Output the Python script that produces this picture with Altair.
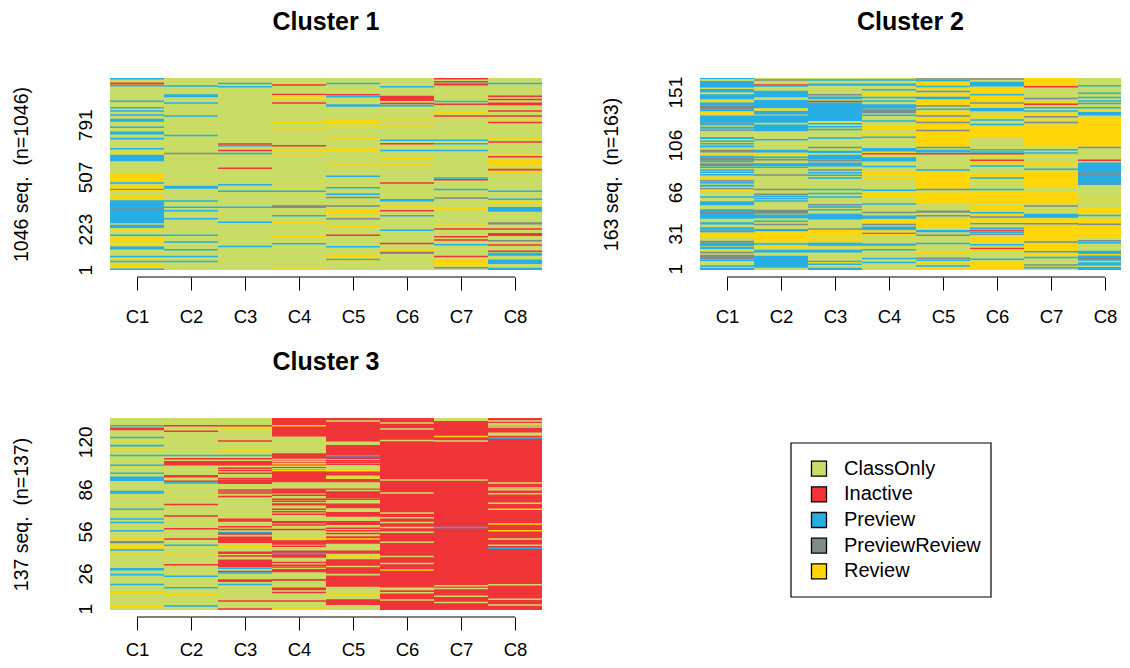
import altair as alt
import pandas as pd

STATES = ["ClassOnly", "Inactive", "Preview", "PreviewReview", "Review"]
COLORS = ["#C9DC66", "#F03538", "#26AEE5", "#7F8C8B", "#FFD60A"]
COLUMNS = ["C1", "C2", "C3", "C4", "C5", "C6", "C7", "C8"]
C, I, P, R, V = STATES

# Each entry is (state, row) for a thin run of sequences, or (state, first row, last row).
# Rows count down a 27-597 reading grid spanning all sequences of a cluster.
A1 = [(P,29),(P,50),(I,40,46),(P,96),(P,115),(P,125),(P,137),(P,148,157),(P,173),(P,186,195),(P,207),(P,237),(V,250),(P,255,274),(V,312,333),(P,339),(V,347,355),(R,358),(V,362),(V,378,387),(P,390,458),(R,416),(P,463,472),(V,478),(P,494),(V,502,511),(V,516,522),(P,527,536),(P,557),(V,565),(P,572),(V,580,590),(P,595)]
A2 = [(P,51),(P,75,84),(P,101),(P,140),(P,198),(R,251),(P,347,356),(P,392),(P,411),(P,421),(P,445),(P,494),(P,514),(P,537),(P,557),(P,572)]
A3 = [(P,43),(P,53),(I,223),(P,228),(I,242),(P,251),(I,295),(P,344),(P,363),(P,411),(P,455),(P,527)]
A4 = [(I,48),(I,76),(V,80),(V,86),(I,101),(V,159),(V,179),(I,228),(V,241),(V,252),(V,358),(P,363),(R,405,413),(P,436),(V,455),(V,498),(P,519),(V,590)]
A5 = [(P,43),(I,77),(P,83),(P,105,112),(V,149,162),(V,169),(V,208),(V,236,245),(V,285),(P,319),(P,353),(P,372),(R,382),(R,407),(V,419,430),(V,436),(R,445),(V,469),(I,494),(P,528),(V,551,559),(P,566),(V,571)]
A6 = [(P,53),(I,80,95),(I,103),(P,109),(V,150),(V,169),(P,212),(I,222),(P,242),(V,266),(V,285),(I,339),(P,386,394),(V,407),(I,421),(P,436),(P,479),(I,518),(V,540),(I,545),(P,547)]
A7 = [(I,29),(I,38),(P,43),(I,47),(P,97),(I,105),(V,130),(I,140),(P,212),(P,222),(P,242),(P,324),(I,329),(P,358),(R,383),(V,415),(V,460),(I,475),(I,498),(I,508),(P,522),(I,557),(V,565,578),(V,580),(R,590)]
A8 = [(P,43),(I,81),(I,91),(I,100,108),(I,125),(I,140),(V,150),(I,159),(V,208),(I,217),(V,252),(I,261),(V,270,280),(V,285),(V,293),(I,299),(V,309),(P,363),(P,387),(V,397),(P,410,424),(R,455,462),(I,475),(I,487,496),(R,510),(I,523),(I,541),(P,546,555),(P,566,579),(P,590,597)]

B1 = [(P,27,30),(P,36,55),(P,60,69),(P,75,90),(V,95),(P,100,108),(R,108,120),(P,120,126),(V,127,135),(P,138,160),(R,162),(P,164,168),(P,172,178),(R,182),(P,202,208),(P,215),(P,222),(P,230),(R,240,248),(V,250,258),(P,260),(R,262,273),(P,275),(R,280,288),(P,292),(P,300),(P,307),(P,314),(V,320,326),(R,332),(P,338),(P,344,350),(R,356),(V,360),(P,380),(P,393,405),(P,417,445),(R,427),(P,455,462),(P,470,475),(P,478),(R,483),(V,488,500),(R,510,516),(P,516,526),(P,528,535),(V,537),(R,545),(R,552,565),(P,568),(P,585),(P,590,597)]
B2 = [(R,33),(I,48),(P,51),(P,65,84),(P,92,117),(V,120),(P,125,135),(P,138,160),(P,165,185),(P,210),(P,240,248),(V,253),(P,260,265),(R,270),(P,280,288),(P,292),(R,315),(R,358),(R,372),(P,378),(P,385),(P,392),(R,418,430),(P,432,443),(P,452),(R,462),(P,475,482),(V,484,505),(V,510),(P,520),(V,528),(P,537,545),(P,555,590)]
B3 = [(P,33),(P,43,50),(R,77),(P,82,90),(I,97),(P,100,155),(P,163),(P,172),(P,180),(P,205),(R,233),(P,243,250),(P,255,270),(R,273),(P,278,290),(R,300),(P,308),(P,316),(P,324),(P,358),(P,370),(P,380),(R,403),(P,410),(P,418),(P,430,447),(R,475),(V,478,497),(V,503,512),(P,516,525),(V,530),(P,537,545),(P,572),(V,576),(P,580),(P,590,597)]
B4 = [(P,33),(P,43,50),(P,62),(V,70,80),(P,85),(P,95),(P,105,118),(R,120,132),(P,135,140),(P,155),(V,168,180),(V,195),(P,203),(P,235,245),(V,249),(I,252),(P,262,275),(P,290),(V,305,318),(V,325),(P,360),(V,367,380),(P,401),(R,426),(P,435,445),(V,448,458),(R,462),(P,468,478),(V,482),(I,489),(V,492),(P,518,525),(V,530),(P,537),(P,563),(P,575)]
B5 = [(R,30),(P,35),(V,38,48),(P,52),(V,57,62),(R,67),(V,72,80),(R,85),(P,88),(V,92,107),(R,110),(V,115),(P,120),(V,125,135),(R,140),(V,145,155),(R,159),(V,163,230),(R,183),(R,233),(P,240,248),(I,252),(P,300),(V,305,355),(R,358),(V,367,400),(R,420,427),(R,436),(V,445,470),(P,478,485),(R,494),(P,518),(V,545),(R,562),(P,568),(V,575),(P,585),(V,590,597)]
B6 = [(R,30),(P,38,52),(V,57,72),(P,77),(V,80,95),(R,101),(V,105,112),(P,116,126),(V,135,145),(P,152),(P,165),(V,170,205),(P,240),(P,247),(I,252),(V,258),(I,271),(V,278),(P,288),(V,310,320),(P,324),(V,330),(P,358),(V,365,400),(V,405,420),(P,427),(V,433),(R,440),(V,445,455),(R,460),(V,465),(P,473),(I,480),(P,485),(R,491),(V,498,515),(P,522),(I,533),(V,538),(P,565),(V,572,597)]
B7 = [(V,27,56),(I,53),(R,88),(V,98),(I,105),(P,115),(P,125),(V,135),(R,142),(V,150),(R,159),(V,165,230),(P,240),(P,250),(V,258),(V,278,288),(P,298),(V,303,352),(V,365,400),(R,407),(P,430,442),(V,445,457),(R,460),(V,465,510),(R,514),(V,520,540),(R,543),(V,548,555),(P,560),(R,582),(P,590)]
B8 = [(P,50),(P,72),(P,85),(P,95),(P,103),(P,115),(V,122),(P,128,138),(V,143,230),(R,233),(I,271),(P,278,345),(R,305),(R,315),(R,340),(V,388),(V,410,430),(P,435),(V,445,458),(R,461),(V,467,500),(R,510),(P,516),(P,540,597),(V,552),(R,563),(C,572),(C,586)]

D1 = [(P,50),(I,55,63),(P,85),(V,96),(P,109),(V,115),(P,138),(P,167),(P,191),(P,201,214),(P,243,252),(P,298),(P,327),(P,337),(V,358),(P,362),(V,386),(R,392,399),(V,403,415),(P,419),(V,430),(P,472,480),(P,492),(P,521),(V,546),(V,582,590)]
D2 = [(I,50),(I,66),(P,138),(I,148),(I,155,168),(I,196,204),(I,215),(P,220),(I,284),(I,318),(I,356),(I,386),(P,405),(V,430),(I,463),(P,497),(P,531),(V,550),(P,585)]
D3 = [(I,50),(V,60),(I,95),(V,124),(P,138),(I,148),(I,155,168),(I,176),(I,183),(I,191),(I,207),(I,210,223),(P,240),(I,244),(I,250),(I,260),(I,325,335),(I,350),(I,358),(P,367),(I,371),(I,379,398),(V,408),(I,423,431),(I,437),(I,447,470),(P,473),(I,483),(P,487),(I,506,514),(P,521),(I,570),(I,594)]
D4 = [(I,27,82),(V,50),(I,132,218),(C,150),(C,156),(V,163),(C,170),(C,178),(V,183),(I,236,248),(I,249),(I,256),(I,268),(I,274),(I,280,287),(I,298),(I,305),(I,313),(I,333,340),(I,345),(I,358),(V,386),(I,390,403),(I,408),(I,420,442),(P,429),(I,456),(I,464),(I,469),(I,475,485),(I,505,510),(I,530,538),(I,545),(I,570),(V,594)]
D5 = [(I,27,97),(C,36),(I,107,149),(P,139),(I,153),(I,158),(I,164),(V,182),(I,186,198),(V,204),(I,208,218),(I,236,265),(C,242),(I,268),(I,281,295),(I,306,320),(I,333,345),(I,354),(I,362),(I,370),(I,378,400),(V,386),(I,420,430),(V,439),(I,446,528),(C,468),(C,492),(V,551),(I,565,582)]
D6 = [(I,27,597),(C,42),(C,60),(C,94),(C,211),(C,250),(C,309),(C,323),(C,337),(C,352),(C,366),(C,396),(C,438),(C,459),(V,478),(C,530,538),(C,546),(C,567)]
D7 = [(I,36,597),(C,27,35),(V,82),(C,95),(C,211),(P,352),(C,525),(C,533),(C,556),(C,575)]
D8 = [(I,27,597),(C,36),(C,42,50),(C,54),(C,70,80),(P,86),(C,220),(C,235),(C,240),(C,252),(C,280),(V,298),(V,342),(V,362),(C,386),(C,405),(P,414),(C,522),(C,565),(C,582)]

# title offset keeps the three titles level: the top tick label of cluster 2 reaches above its panel
CLUSTERS = [
    ("Cluster 1", 1046, [1, 223, 507, 791], [A1, A2, A3, A4, A5, A6, A7, A8], 432, 43, 17),
    ("Cluster 2", 163, [1, 31, 66, 106, 151], [B1, B2, B3, B4, B5, B6, B7, B8], 421, 41, 17),
    ("Cluster 3", 137, [1, 26, 56, 86, 120], [D1, D2, D3, D4, D5, D6, D7, D8], 432, 43, 10),
]

FONT = "Liberation Sans"
W, H = 432, 192
TOP, BOTTOM = 27, 597
THIN = 4.5
color_scale = alt.Scale(domain=STATES, range=COLORS)


def table(n, columns):
    rows = []
    to_seq = lambda r: n * (BOTTOM - r) / (BOTTOM - TOP)
    for i, col in enumerate(columns):
        rows.append(dict(x=i, x2=i + 1, y=0, y2=n, state=C))
        for e in col:
            if len(e) == 2:
                a, b = e[1] - THIN / 2, e[1] + THIN / 2
            else:
                a, b = e[1], e[2]
            rows.append(dict(x=i, x2=i + 1, y=to_seq(min(b, BOTTOM)), y2=to_seq(max(a, TOP)), state=e[0]))
    return pd.DataFrame(rows)


def panel(title, n, ticks, columns, w, title_offset, label_pad):
    label_expr = "[" + ",".join(f"'{c}'" for c in COLUMNS) + "][floor(datum.value)]"
    x_scale = alt.Scale(domain=[0, 8 * w / W], nice=False, zero=False)
    rects = alt.Chart(table(n, columns)).mark_rect(clip=True).encode(
        x=alt.X("x:Q", scale=x_scale,
                axis=alt.Axis(values=[i + 0.5 for i in range(8)], labelExpr=label_expr, title=None,
                              grid=False, domain=False, offset=7, tickSize=13, tickColor="#000",
                              tickWidth=1, labelFont=FONT, labelFontSize=18.5, labelColor="#000",
                              labelPadding=label_pad, labelAngle=0)),
        x2="x2:Q",
        y=alt.Y("y:Q", scale=alt.Scale(domain=[0, n], nice=False, zero=False),
                axis=alt.Axis(values=ticks, format="d", title=f"{n} seq.\u00a0 (n={n})", ticks=False, domain=False,
                              grid=False, labelAngle=270, labelAlign="center", labelBaseline="bottom",
                              labelFont=FONT, labelFontSize=19, labelColor="#000", labelPadding=15,
                              labelOverlap=False, titleFont=FONT, titleFontSize=19.5, titleFontWeight="normal",
                              titleColor="#000", titlePadding=45)),
        y2="y2:Q",
        color=alt.Color("state:N", scale=color_scale, legend=None),
    )
    line = alt.Chart(pd.DataFrame({"a": [0.5], "b": [7.5]})).mark_rule(color="#000", strokeWidth=1).encode(
        x=alt.X("a:Q", scale=x_scale), x2="b:Q", y=alt.value(H + 7))
    return alt.layer(rects, line).properties(
        width=w, height=H,
        title=alt.TitleParams(title, font=FONT, fontSize=25, fontWeight="bold", color="#000", offset=title_offset),
    )


def legend():
    df = pd.DataFrame({"state": STATES})
    yscale = alt.Y("state:N", sort=STATES, axis=None, scale=alt.Scale(type="point", padding=1, range=[25, 179]))
    box = alt.Chart(df.head(1)).mark_rect(fill=None, stroke="#000", strokeWidth=1.2).encode(
        x=alt.value(0), x2=alt.value(200), y=alt.value(25), y2=alt.value(179))
    marks = alt.Chart(df).mark_square(size=225, opacity=1, stroke="#000", strokeWidth=1.3).encode(
        x=alt.value(28), y=yscale, fill=alt.Fill("state:N", scale=color_scale, legend=None))
    text = alt.Chart(df).mark_text(align="left", baseline="middle", font=FONT, fontSize=20, color="#000").encode(
        x=alt.value(53), y=yscale, text="state:N")
    return alt.layer(box, marks, text).properties(
        width=200, height=H,
        title=alt.TitleParams(" ", font=FONT, fontSize=25, fontWeight="bold", offset=43),
    )


p1, p2, p3 = [panel(*c) for c in CLUSTERS]
chart = alt.vconcat(
    alt.hconcat(p1, p2, spacing=59),
    alt.hconcat(p3, legend(), spacing=248),
    spacing=24,
).properties(padding={"left": 3, "top": 2, "right": 0, "bottom": 0}).configure_view(stroke=None).configure_concat(spacing=0)

chart.save("out.html", embed_options={"renderer": "svg", "actions": False})
